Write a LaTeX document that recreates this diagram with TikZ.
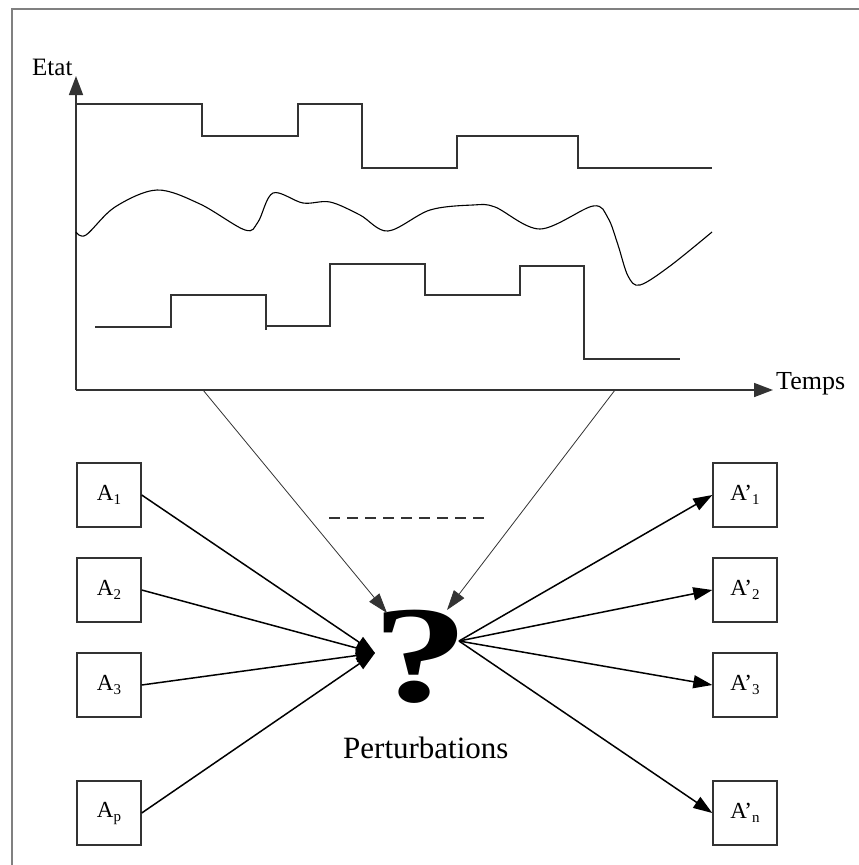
\documentclass[tikz,border=0pt]{standalone}
\usepackage{fontspec}
\setmainfont{Liberation Serif}
\usetikzlibrary{arrows.meta}
\newcommand\sbx[1]{\raisebox{-4pt}{\fontsize{15}{15}\selectfont #1}}
\begin{document}
\begin{tikzpicture}[x=1pt,y=-1pt,
  frame/.style={draw=black!50, line width=2.5pt},
  axis/.style={draw=black!80, line width=1.6pt, -{Triangle[length=19pt,width=14pt]}},
  wave/.style={draw=black!80, line width=1.6pt},
  curve/.style={draw=black, line width=1.1pt},
  abox/.style={draw=black!80, line width=1.4pt, minimum size=64pt, inner sep=0pt, font=\fontsize{23}{23}\selectfont},
  conn/.style={draw=black, line width=1.5pt, -{Triangle[length=19pt,width=13pt]}},
  thin/.style={draw=black!80, line width=0.8pt, -{Triangle[length=20pt,width=13pt]}},
  lbl/.style={inner sep=0pt, font=\fontsize{25}{25}\selectfont}
]
\useasboundingbox (0,0) rectangle (859,865);
% frame
\draw[frame] (859,9) -- (12,9) -- (12,865);
% axes
\coordinate (O) at (76,390);
\coordinate (ytip) at (76,76);
\coordinate (xtip) at (773,390);
\draw[axis] (O) -- (ytip);
\draw[axis] (O) -- (xtip);
\node[lbl, anchor=base west] (etat) at (32,75) {Etat};
\node[lbl, anchor=base west, font=\fontsize{26}{26}\selectfont] (temps) at (776,389) {Temps};
% top square wave
\draw[wave] (76,104) -- (202,104) -- (202,136) -- (298,136) -- (298,104) -- (362,104) -- (362,168) -- (457,168) -- (457,136) -- (578,136) -- (578,168) -- (712,168);
% smooth curve
\draw[curve] plot[smooth, tension=0.55] coordinates {(76,232) (86,235) (115,207) (157,190) (200,204) (245,230) (258,222) (273,193) (303,203) (330,202) (360,215) (388,231) (430,210) (473,205) (495,207) (540,229) (593,206) (608,218) (618,245) (628,276) (640,285) (670,266) (712,232)};
% bottom square wave
\draw[wave] (95,327) -- (171,327) -- (171,295) -- (266,295) -- (266,330);
\draw[wave] (266,326) -- (330,326) -- (330,264) -- (425,264) -- (425,295) -- (520,295) -- (520,266) -- (584,266) -- (584,359) -- (680,359);
% question mark and label
\node[inner sep=0pt, anchor=base, font=\fontsize{138}{138}\selectfont\bfseries] (q) at (421,701) {\scalebox{1.4}[1]{?}};
\node[inner sep=0pt, anchor=base west, font=\fontsize{31}{31}\selectfont] (pert) at (343,758) {Perturbations};
\coordinate (qin) at (375,653);
\coordinate (qout) at (459,641);
\coordinate (qtl) at (387,613);
\coordinate (qtr) at (447,610);
% thin lines from the time axis
\coordinate (t1) at (203,390);
\coordinate (t2) at (615,390);
\draw[thin] (t1) -- (qtl);
\draw[thin] (t2) -- (qtr);
% dashed line
\coordinate (d1) at (329,518);
\coordinate (d2) at (485,518);
\draw[draw=black!80, line width=1.3pt, dash pattern=on 11pt off 7pt] (d1) -- (d2);
% left boxes
\node[abox] (a1) at (109,495) {A\sbx{1}};
\node[abox] (a2) at (109,590) {A\sbx{2}};
\node[abox] (a3) at (109,685) {A\sbx{3}};
\node[abox] (ap) at (109,813) {A\sbx{p}};
% right boxes
\node[abox] (b1) at (745,495) {A’\sbx{1}};
\node[abox] (b2) at (745,590) {A’\sbx{2}};
\node[abox] (b3) at (745,685) {A’\sbx{3}};
\node[abox] (bn) at (745,813) {A’\sbx{n}};
% connectors
\foreach \n in {a1,a2,a3,ap} \draw[conn] (\n.east) -- (qin);
\foreach \n in {b1,b2,b3,bn} \draw[conn] (qout) -- (\n.west);
\end{tikzpicture}
\end{document}
